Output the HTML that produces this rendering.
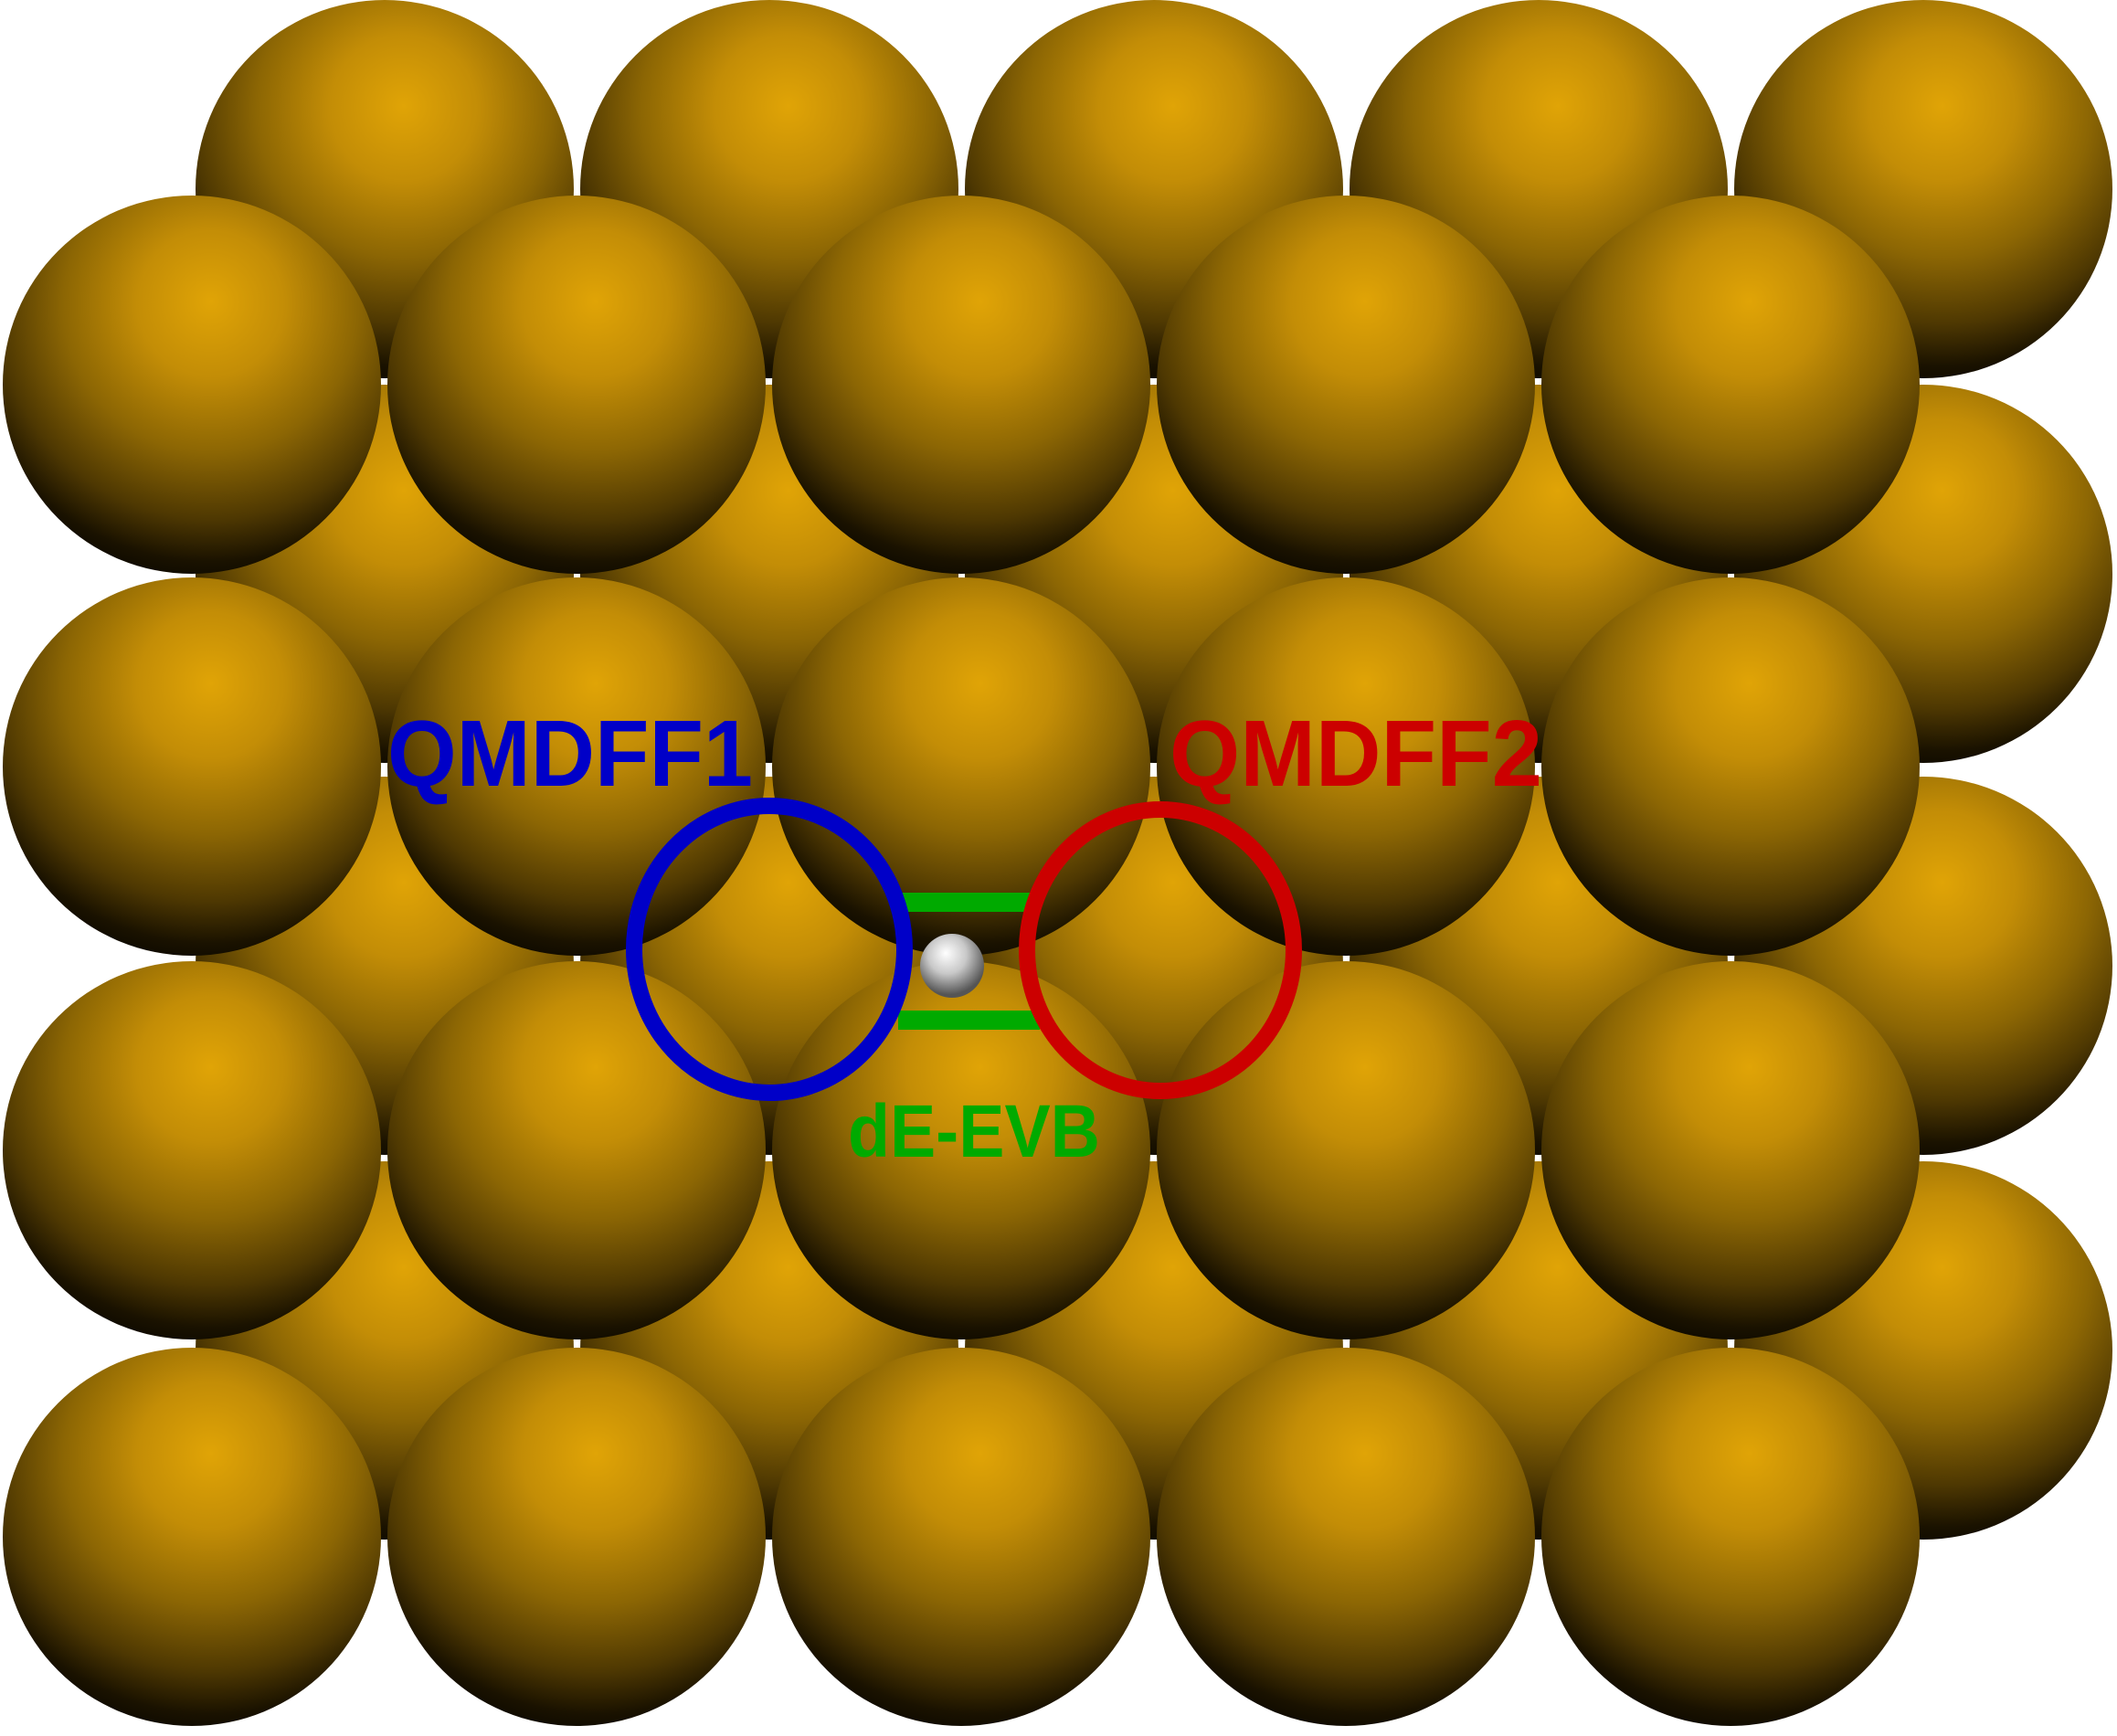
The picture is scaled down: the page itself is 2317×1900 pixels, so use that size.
<!DOCTYPE html>
<html>
<head>
<meta charset="utf-8">
<style>
html,body{margin:0;padding:0;background:#fff;}
svg{display:block;}
text{font-family:"Liberation Sans","DejaVu Sans",sans-serif;font-weight:bold;}
</style>
</head>
<body>
<svg id="scene" width="2317" height="1900" viewBox="0 0 2317 1900" xmlns="http://www.w3.org/2000/svg">
<defs>
<radialGradient id="gold" cx="0.55" cy="0.3" r="0.78" fx="0.55" fy="0.28">
<stop offset="0" stop-color="#e0a406"/>
<stop offset="0.25" stop-color="#c38d06"/>
<stop offset="0.5" stop-color="#8c6604"/>
<stop offset="0.72" stop-color="#4e3802"/>
<stop offset="0.86" stop-color="#1a1200"/>
<stop offset="1" stop-color="#000000"/>
</radialGradient>
<radialGradient id="silver" cx="0.45" cy="0.35" r="0.6" fx="0.4" fy="0.3">
<stop offset="0" stop-color="#ffffff"/>
<stop offset="0.5" stop-color="#c8c8c8"/>
<stop offset="1" stop-color="#555"/>
</radialGradient>
</defs>
<g id="back-layer"></g>
<g id="front-layer"></g>
<g id="annot">
<rect x="983" y="977" width="155" height="21" fill="#00aa00"/>
<rect x="983" y="1106" width="155" height="21" fill="#00aa00"/>
<circle cx="1042" cy="1057" r="35" fill="url(#silver)"/>
<ellipse cx="842" cy="1039" rx="148" ry="157" fill="none" stroke="#0000c8" stroke-width="18"/>
<ellipse cx="1270" cy="1040" rx="146" ry="154" fill="none" stroke="#cc0000" stroke-width="18"/>
<text x="424" y="860" font-size="103" fill="#0000c8" textLength="400" lengthAdjust="spacingAndGlyphs">QMDFF1</text>
<text x="1280" y="860" font-size="103" fill="#cc0000" textLength="408" lengthAdjust="spacingAndGlyphs">QMDFF2</text>
<text x="928" y="1266" font-size="82" fill="#00aa00" textLength="276" lengthAdjust="spacingAndGlyphs">dE-EVB</text>
</g>
</svg>
<script>
const backCols = [421, 842, 1263, 1684, 2105];
const backRows = [207, 628, 1057, 1478];
const frontCols = [210, 631, 1052, 1473, 1894];
const frontRows = [421, 839, 1259, 1682];
const atomRadius = 207;
const NS = "http://www.w3.org/2000/svg";
function addLayer(id, cols, rows, name) {
  const g = document.getElementById(id);
  rows.forEach((y) => {
    cols.forEach((x) => {
      const c = document.createElementNS(NS, "circle");
      c.setAttribute("cx", x);
      c.setAttribute("cy", y);
      c.setAttribute("r", atomRadius);
      c.setAttribute("fill", "url(#gold)");
      
      
      g.appendChild(c);
    });
  });
}
addLayer("back-layer", backCols, backRows, "gold-atom-back");
addLayer("front-layer", frontCols, frontRows, "gold-atom-front");
</script>
</body>
</html>
